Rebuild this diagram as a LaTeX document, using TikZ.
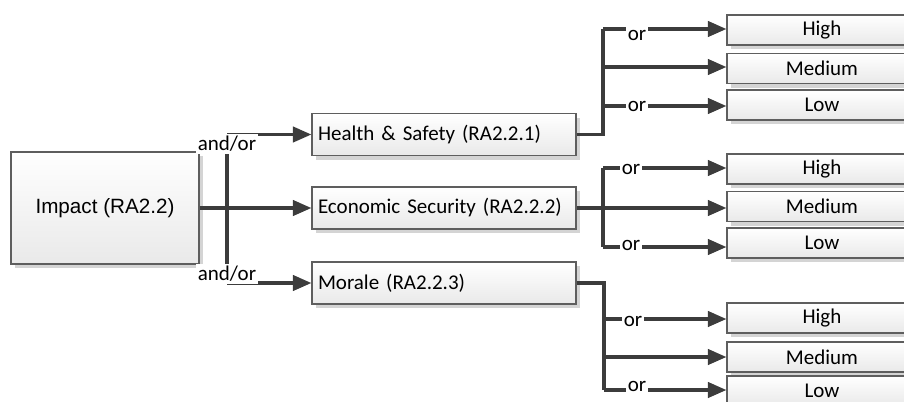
\documentclass[tikz,border=0pt]{standalone}
\usepackage{fontspec}
\setmainfont{Carlito}
\newfontfamily\arialfont{Liberation Sans}
\usetikzlibrary{arrows.meta,shadows}

\definecolor{linegray}{HTML}{3C3C3C}
\definecolor{boxline}{HTML}{5E5E5E}
\definecolor{boxbot}{HTML}{E9E9E9}
\definecolor{shadowgray}{HTML}{D4D4D4}

\tikzset{
  box/.style={draw=boxline, line width=0.8pt, top color=white, bottom color=boxbot,
    drop shadow={shadow xshift=3pt, shadow yshift=-3pt, fill=shadowgray, opacity=1},
    font=\fontsize{15.75}{18}\selectfont},
  leftbox/.style={box, text width=189pt, align=left, inner xsep=4.5pt,
    minimum height=31.5pt},
  levelbox/.style={box, minimum width=142.5pt, minimum height=22.5pt, inner sep=0pt},
  conn/.style={draw=linegray, line width=2.6pt},
  arr/.style={conn, -{Triangle[length=14pt,width=11.5pt]}},
  lbl/.style={fill=white, inner xsep=1.5pt, inner ysep=2.6pt,
    font=\fontsize{15.75}{18}\selectfont}
}

\begin{document}
\begin{tikzpicture}[x=0.75pt,y=-0.75pt]
\useasboundingbox (0,0) rectangle (904,401);

% root and the three impact areas
\node[box, minimum width=141pt, minimum height=84pt,
      font=\arialfont\fontsize{15.5}{18}\selectfont] (imp) at (105,208) {Impact (RA2.2)};
\node[leftbox] (hs) at (444,134.5) {Health \& Safety (RA2.2.1)};
\node[leftbox] (es) at (444,208) {Economic Security (RA2.2.2)};
\node[leftbox] (mo) at (444,283) {Morale (RA2.2.3)};

% levels for Health & Safety
\node[levelbox] (th) at (822,30)   {High};
\node[levelbox] (tm) at (822,68.5) {Medium};
\node[levelbox] (tl) at (822,105)  {Low};
% levels for Economic Security
\node[levelbox] (mh) at (822,169)   {High};
\node[levelbox] (mm) at (822,206.5) {Medium};
\node[levelbox] (ml) at (822,243)   {Low};
% levels for Morale
\node[levelbox] (bh) at (822,318) {High};
\node[levelbox] (bm) at (822,357) {Medium};
\node[levelbox] (bl) at (822,391) {Low};

% root fan-out
\coordinate (jt) at (227,134.5);
\coordinate (jb) at (227,283);
\draw[conn] (jt) -- (jb);
\draw[arr] (jt) -- (hs.west);
\draw[arr] (imp.east) -- (es.west);
\draw[arr] (jb) -- (mo.west);
\node[lbl, inner ysep=1.5pt] at (227,144) {and/or};
\node[lbl, inner ysep=1.5pt] at (227,274) {and/or};

% Health & Safety branches
\coordinate (t1) at (603,29);
\coordinate (t2) at (603,67);
\coordinate (t3) at (603,106);
\draw[conn] (hs.east) -| (t1);
\draw[arr] (t1) -- (t1 -| th.west);
\draw[arr] (t2) -- (t2 -| tm.west);
\draw[arr] (t3) -- (t3 -| tl.west);
\node[lbl] at (637,35) {or};
\node[lbl] at (637,106) {or};

% Economic Security branches
\coordinate (m1) at (603,168);
\coordinate (m3) at (603,247);
\draw[conn] (m1) -- (m3);
\draw[arr] (m1) -- (m1 -| mh.west);
\draw[arr] (es.east) -- (es.east -| mm.west);
\draw[arr] (m3) -- (m3 -| ml.west);
\node[lbl] at (631,169) {or};
\node[lbl] at (631,245) {or};

% Morale branches
\coordinate (b1) at (604,319);
\coordinate (b2) at (604,357);
\coordinate (b3) at (604,390);
\draw[conn] (mo.east) -| (b3);
\draw[arr] (b1) -- (b1 -| bh.west);
\draw[arr] (b2) -- (b2 -| bm.west);
\draw[arr] (b3) -- (b3 -| bl.west);
\node[lbl] at (633,321) {or};
\node[lbl] at (637,386) {or};
\end{tikzpicture}
\end{document}
